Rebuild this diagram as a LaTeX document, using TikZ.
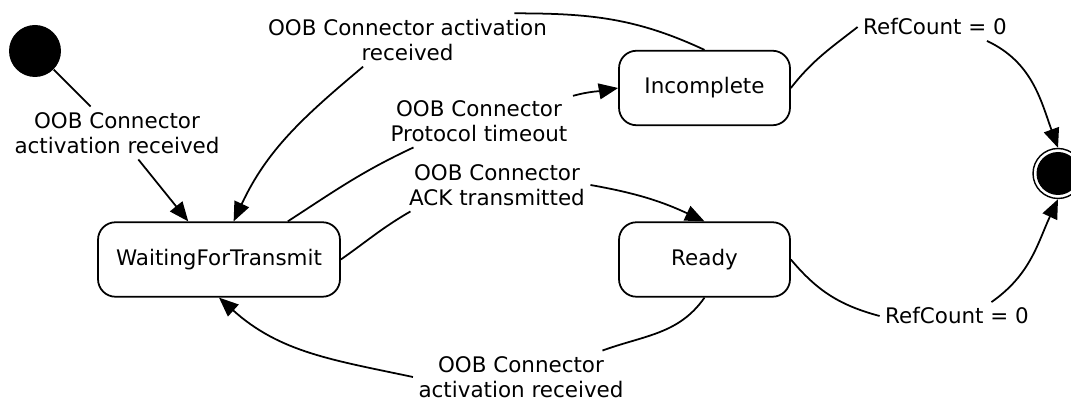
\documentclass[tikz,border=0pt]{standalone}
\usepackage{fontspec}
\setmainfont{DejaVu Sans}
\usetikzlibrary{arrows.meta}
\tikzset{>={Triangle[width=9pt,length=11pt]}}
\tikzset{
	txt/.style={font=\fontsize{12.2}{14.5}\selectfont},
	stateBox/.style={txt,draw,line width=1pt,rounded corners=0.35cm,minimum height=1.49cm,align=center},
	transText/.style={txt,align=center,inner sep=3pt},
	edge/.style={line width=1pt},
	initState/.style={circle,fill=black,inner sep=0pt,minimum size=1.04cm},
	finalState/.style={circle,draw,line width=0.8pt,inner sep=0pt,minimum size=1cm,
		path picture={\fill (path picture bounding box.center) circle (0.43cm);}}
}

\begin{document}
\begin{tikzpicture}[x=0.02cm,y=0.02cm]
		\useasboundingbox (0,0) rectangle (1071,-404);

		% states
		\node[initState] (init) at (35,-51) {};
		\node[stateBox,minimum width=4.84cm] (wft) at (219,-259.5) {WaitingForTransmit};
		\node[stateBox,minimum width=3.42cm] (inc) at (704.5,-88) {Incomplete};
		\node[stateBox,minimum width=3.42cm] (ready) at (704.5,-259.5) {Ready};
		\node[finalState] (fin) at (1058,-173.5) {};

		% transition labels
		\node[transText] (L1) at (117,-133) {OOB Connector\\activation received};
		\node[transText] (L2) at (407.5,-40) {OOB Connector activation\\received};
		\node[transText] (L3) at (479,-121) {OOB Connector\\Protocol timeout};
		\node[transText] (L4) at (497,-185) {OOB Connector\\ACK transmitted};
		\node[transText] (L5) at (521,-377) {OOB Connector\\activation received};
		\node[transText] (L6) at (935,-27) {RefCount = 0};
		\node[transText] (L7) at (957,-316) {RefCount = 0};

		% initial -> WaitingForTransmit
		\draw[edge] (init) -- (L1);
		\draw[edge,->] (L1) -- (wft);

		% Incomplete -> WaitingForTransmit
		\draw[edge] (inc.north) to[out=155,in=0] (L2.14);
		\draw[edge,->] (L2.211) to[out=220,in=65] (wft.69);

		% WaitingForTransmit -> Incomplete
		\draw[edge] (wft.29) to[out=33,in=205] (L3.202);
		\draw[edge,->] (L3.15) to[out=15,in=190] (inc.west);

		% WaitingForTransmit -> Ready
		\draw[edge] (wft.east) to[out=35,in=210] (L4.197);
		\draw[edge,->] (L4.east) to[out=-10,in=155] (ready.north);

		% Ready -> WaitingForTransmit
		\draw[edge] (ready.south) to[out=235,in=20] (L5.18);
		\draw[edge,->] (L5.west) to[out=168,in=-42] (wft.south);

		% Incomplete -> final
		\draw[edge] (inc.east) to[out=52,in=218] (L6.west);
		\draw[edge,->] (L6.-15) to[out=-25,in=110] (fin.north);

		% Ready -> final
		\draw[edge] (ready.east) to[out=-50,in=165] (L7.west);
		\draw[edge,->] (L7.22) to[out=35,in=-115] (fin.south);

	\end{tikzpicture}
\end{document}
